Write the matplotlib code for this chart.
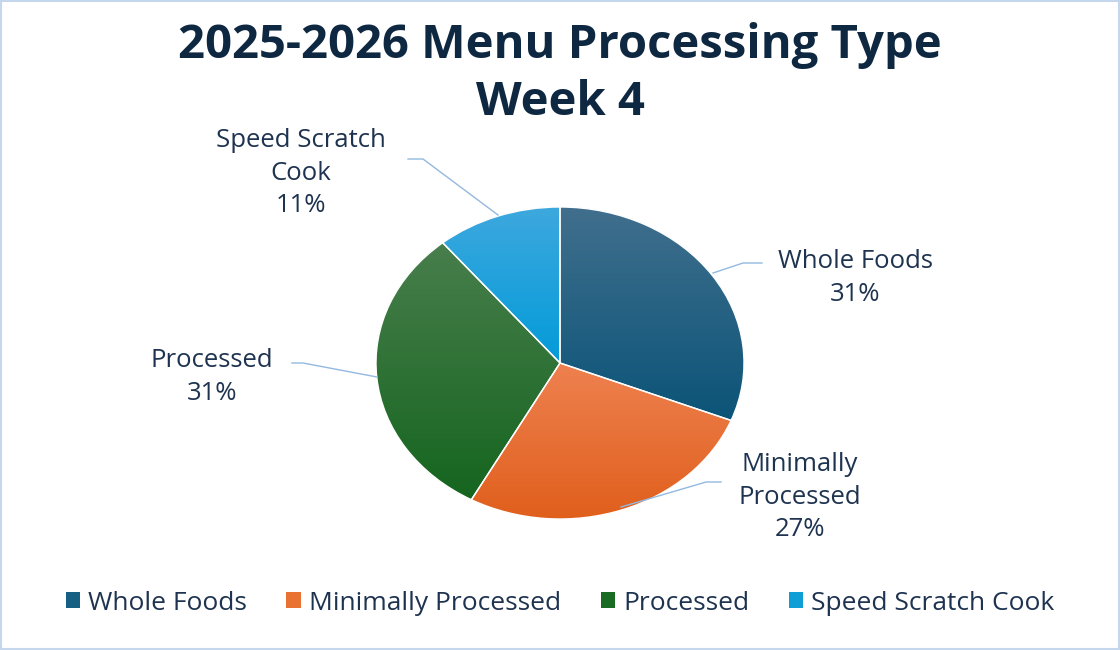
import numpy as np
import matplotlib.pyplot as plt
from matplotlib.colors import LinearSegmentedColormap
from matplotlib.patches import Patch, Rectangle

categories = ['Whole Foods', 'Minimally Processed', 'Processed', 'Speed Scratch Cook']
shares = [31, 27, 31, 11]
slice_labels = ['Whole Foods\n31%', 'Minimally\nProcessed\n27%', 'Processed\n31%', 'Speed Scratch\nCook\n11%']

base_cols = ['#156082', '#E97132', '#196B24', '#0F9ED5']
top_cols = ['#416F8D', '#EE8150', '#487E4C', '#3DA8DE']
bot_cols = ['#0B5478', '#E05F1C', '#15651F', '#039BD9']
txt_col = '#1E3350'
line_col = '#93B9E0'

W, H = 1120, 650
cx, cy, rx, ry = 560, 363, 184, 156

fig = plt.figure(figsize=(11.2, 6.5), dpi=100)
ax = fig.add_axes([0, 0, 1, 1])
ax.axis('off')

wedges, _ = ax.pie(shares, startangle=90, counterclock=False, radius=1,
                   wedgeprops=dict(linewidth=0))

# vertical gradient inside each slice
for w, c0, c1 in zip(wedges, top_cols, bot_cols):
    v = w.get_path().vertices
    x0, x1 = v[:, 0].min(), v[:, 0].max()
    y0, y1 = v[:, 1].min(), v[:, 1].max()
    cmap = LinearSegmentedColormap.from_list('g', [c1, c0])
    grad = np.linspace(1, 0, 200).reshape(-1, 1)
    im = ax.imshow(grad, cmap=cmap, extent=[x0, x1, y0, y1], aspect='auto',
                   origin='upper', zorder=2, vmin=0, vmax=1)
    im.set_clip_path(w)

ax.pie(shares, startangle=90, counterclock=False, radius=1,
       wedgeprops=dict(facecolor='none', edgecolor='white', linewidth=1, zorder=3))

ax.set_aspect('auto')
ax.set_xlim(-cx / rx, (W - cx) / rx)
ax.set_ylim(-(H - cy) / ry, cy / ry)


def px(x, y):
    return ((x - cx) / rx, (cy - y) / ry)


# data labels (pixel centres) and leader lines
lab_pos = [(855, 278), (800, 497), (212, 377), (301, 173)]
leaders = [
    [(713, 273), (743, 263), (762, 263)],
    [(621, 507), (706, 482), (721, 482)],
    [(377, 377), (303, 363), (292, 363)],
    [(498, 215), (423, 159), (408, 159)],
]
for lab, (lx, ly), pts in zip(slice_labels, lab_pos, leaders):
    tx, ty = px(lx, ly)
    ax.text(tx, ty, lab, ha='center', va='center', fontsize=18.5, color=txt_col,
            family='Open Sans', linespacing=1.42, zorder=5)
    xs, ys = zip(*[px(a, b) for a, b in pts])
    ax.plot(xs, ys, color=line_col, lw=1, zorder=4)

fig.text(0.5, 1 - 74 / H, '2025-2026 Menu Processing Type\nWeek 4', ha='center', va='center',
         fontsize=34, fontweight='bold', color='#0E2841', family='Open Sans', linespacing=1.27)

handles = [Patch(facecolor=c, edgecolor='none') for c in base_cols]
fig.legend(handles, categories, loc='center', bbox_to_anchor=(0.5, 1 - 603 / H), ncol=4,
           frameon=False, handlelength=0.55, handleheight=0.55, handletextpad=0.3,
           columnspacing=1.5, prop=dict(family='Open Sans', size=19), labelcolor=txt_col)

fig.patches.append(Rectangle((0.001, 0.001), 0.998, 0.997, transform=fig.transFigure,
                             fill=False, edgecolor='#C5D7EC', lw=1.5))

fig.savefig('out.png', dpi=100, facecolor='white')
